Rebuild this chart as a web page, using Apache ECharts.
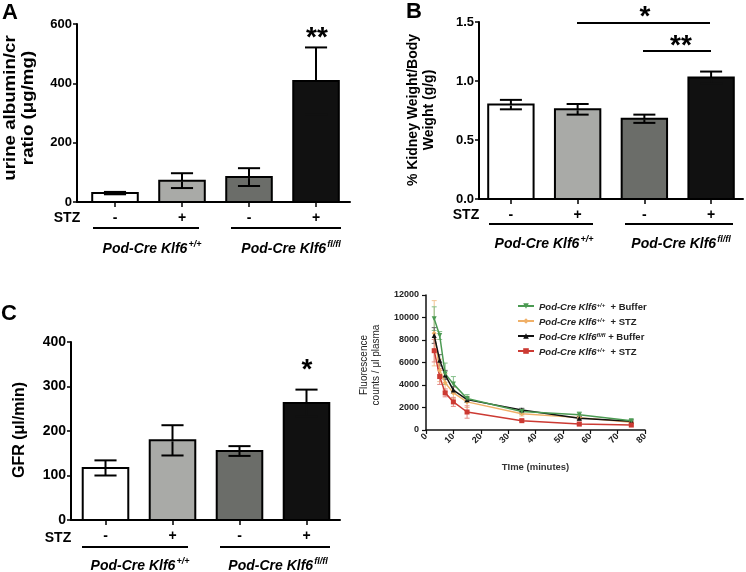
<!DOCTYPE html>
<html><head><meta charset="utf-8">
<script src="https://cdn.jsdelivr.net/npm/echarts@6/dist/echarts.min.js"></script>
<style>html,body{margin:0;padding:0;background:#fff}#c{width:746px;height:572px}</style>
</head><body><div id="c"></div>
<script>
// ---------- data ----------
const stzLabels = ['-', '+', '-', '+'];
const groupNames = ['Pod-Cre Klf6', 'Pod-Cre Klf6'];
const groupSups = ['+/+', 'fl/fl'];
const barColors = ['#ffffff', '#a9aaa7', '#6b6d69', '#111111'];

const albuminMean = [30, 72, 84, 408];
const albuminErr = [4, 25, 30, 113];
const albuminTicks = [0, 200, 400, 600];

const kidneyMean = [0.80, 0.76, 0.68, 1.03];
const kidneyErr = [0.04, 0.045, 0.035, 0.05];
const kidneyTicks = [0, 0.5, 1.0, 1.5];

const gfrMean = [117, 179, 155, 263];
const gfrErr = [17, 34, 11, 30];
const gfrTicks = [0, 100, 200, 300, 400];

const timeMinutes = [3, 5, 7, 10, 15, 35, 56, 75];
const wtBuffer = [9900, 8400, 5000, 4100, 2800, 1650, 1350, 830];
const wtBufferErr = [1050, 350, 950, 650, 350, 250, 250, 100];
const wtStz = [8600, 5300, 4200, 3300, 2500, 1450, 1100, 680];
const wtStzErr = [2900, 1000, 800, 500, 500, 200, 200, 100];
const koBuffer = [8400, 6200, 4900, 3550, 2700, 1780, 1050, 780];
const koBufferErr = [700, 500, 400, 300, 200, 150, 150, 100];
const koStz = [7050, 4750, 3300, 2500, 1600, 830, 530, 440];
const koStzErr = [1000, 700, 350, 400, 550, 100, 150, 80];

// ---------- chart ----------
const FONT = '"Liberation Sans", Arial, Helvetica, sans-serif';
const chart = echarts.init(document.getElementById('c'), null, {renderer: 'canvas', width: 746, height: 572});

function barXAxis(gi, min, max) {
  return {
    type: 'value', gridIndex: gi, min: min, max: max,
    splitLine: {show: false},
    axisLine: {show: true, onZero: false, lineStyle: {color: '#000', width: 2}},
    axisTick: {show: true, customValues: [0, 1, 2, 3], length: 5, lineStyle: {color: '#000', width: 1.5}},
    axisLabel: {customValues: [0, 1, 2, 3], formatter: v => stzLabels[Math.round(v)], color: '#000',
      fontFamily: FONT, fontWeight: 'bold', fontSize: 14, margin: 9}
  };
}
function barYAxis(gi, ticks, fs, fmt) {
  return {
    type: 'value', gridIndex: gi, min: ticks[0], max: ticks[ticks.length - 1],
    interval: ticks[1] - ticks[0],
    splitLine: {show: false},
    axisLine: {show: true, onZero: false, lineStyle: {color: '#000', width: 2}},
    axisTick: {show: true, length: 4, lineStyle: {color: '#000', width: 1.5}},
    axisLabel: {color: '#000', fontFamily: FONT, fontWeight: 'bold', fontSize: fs, margin: 5,
      formatter: fmt || (v => String(v))}
  };
}
function barSeries(gi, means, errs) {
  return {
    type: 'custom', xAxisIndex: gi, yAxisIndex: gi, silent: true,
    data: means.map((m, i) => [i, m, errs[i]]),
    renderItem(params, api) {
      const x = api.value(0), y = api.value(1), e = api.value(2);
      const p0 = api.coord([x, 0]), p1 = api.coord([x, y]);
      const pt = api.coord([x, y + e]), pb = api.coord([x, y - e]);
      const bw = api.size([0.68, 0])[0];
      const cw = api.size([0.33, 0])[0] / 2;
      const fill = barColors[params.dataIndex];
      const st = {stroke: '#000', lineWidth: 2};
      const stLow = {stroke: params.dataIndex === 3 ? fill : '#000', lineWidth: 2};
      return {type: 'group', children: [
        {type: 'rect', shape: {x: p0[0] - bw / 2, y: p1[1], width: bw, height: p0[1] - p1[1]},
          style: {fill: fill, stroke: '#000', lineWidth: 2}},
        {type: 'line', shape: {x1: pt[0], y1: pt[1], x2: p1[0], y2: p1[1]}, style: st},
        {type: 'line', shape: {x1: p1[0], y1: p1[1] + 1, x2: pb[0], y2: pb[1]}, style: stLow},
        {type: 'line', shape: {x1: pt[0] - cw, y1: pt[1], x2: pt[0] + cw, y2: pt[1]}, style: st},
        {type: 'line', shape: {x1: pb[0] - cw, y1: pb[1], x2: pb[0] + cw, y2: pb[1]}, style: stLow}
      ]};
    }
  };
}
function errSeries(vals, errs, color) {
  return {
    type: 'custom', xAxisIndex: 3, yAxisIndex: 3, silent: true, z: 1,
    data: timeMinutes.map((t, i) => [t, vals[i], errs[i]]),
    renderItem(params, api) {
      const t = api.value(0), v = api.value(1), e = api.value(2);
      const top = api.coord([t, v + e]), bot = api.coord([t, Math.max(0, v - e)]);
      const hw = 2.5, st = {stroke: color, lineWidth: 1};
      return {type: 'group', children: [
        {type: 'line', shape: {x1: top[0], y1: top[1], x2: bot[0], y2: bot[1]}, style: st},
        {type: 'line', shape: {x1: top[0] - hw, y1: top[1], x2: top[0] + hw, y2: top[1]}, style: st},
        {type: 'line', shape: {x1: bot[0] - hw, y1: bot[1], x2: bot[0] + hw, y2: bot[1]}, style: st}
      ]};
    }
  };
}
function lineSeries(name, vals, color, symbol, rot) {
  return {
    type: 'line', name: name, xAxisIndex: 3, yAxisIndex: 3, z: 3,
    data: timeMinutes.map((t, i) => [t, vals[i]]),
    symbol: symbol, symbolSize: 5, symbolRotate: rot || 0, showSymbol: true,
    lineStyle: {color: color, width: 1.5}, itemStyle: {color: color}
  };
}

const legendText = {
  wtBuffer: '{i|Pod-Cre Klf6}{s|+/+}{n|  + Buffer}',
  wtStz: '{i|Pod-Cre Klf6}{s|+/+}{n|  + STZ}',
  koBuffer: '{i|Pod-Cre Klf6}{s|fl/fl}{n| + Buffer}',
  koStz: '{i|Pod-Cre Klf6}{s|+/+}{n|  + STZ}'
};

const richBig = {
  i: {fontFamily: FONT, fontStyle: 'italic', fontWeight: 'bold', fontSize: 14, color: '#000', verticalAlign: 'bottom', lineHeight: 18},
  s: {fontFamily: FONT, fontStyle: 'italic', fontWeight: 'bold', fontSize: 9, color: '#000', verticalAlign: 'bottom', lineHeight: 18, padding: [0, 0, 7, 1]}
};
function groupLabel(x, y, gi) {
  return {type: 'text', x: x, y: y, style: {text: '{i|' + groupNames[gi] + '}{s|' + groupSups[gi] + '}',
    rich: richBig, align: 'center', verticalAlign: 'middle'}};
}
function hline(x1, x2, y, w) {
  return {type: 'line', shape: {x1: x1, y1: y, x2: x2, y2: y}, style: {stroke: '#000', lineWidth: w || 2}};
}
function txt(text, x, y, fs) {
  return {type: 'text', x: x, y: y, style: {text: text, fontFamily: FONT, fontWeight: 'bold',
    fontSize: fs, fill: '#000', align: 'center', verticalAlign: 'middle'}};
}

const option = {
  animation: false,
  backgroundColor: '#fff',
  grid: [
    {left: 77, top: 24, width: 273, height: 178},
    {left: 479, top: 22, width: 264, height: 177},
    {left: 71, top: 342, width: 269, height: 178},
    {left: 426, top: 295, width: 219, height: 135}
  ],
  xAxis: [
    barXAxis(0, -0.567, 3.507),
    barXAxis(1, -0.478, 3.478),
    barXAxis(2, -0.515, 3.5),
    {type: 'value', gridIndex: 3, min: 0, max: 80, interval: 10, splitLine: {show: false},
      axisLine: {show: true, onZero: false, lineStyle: {color: '#111', width: 1.5}},
      axisTick: {show: true, length: 4, lineStyle: {color: '#111', width: 1.2}},
      axisLabel: {rotate: 45, fontFamily: FONT, fontWeight: 'bold', fontSize: 9, color: '#222', margin: 5},
      name: 'TIme (minutes)', nameLocation: 'middle', nameGap: 32,
      nameTextStyle: {fontFamily: FONT, fontWeight: 'bold', fontSize: 9.5, color: '#333'}}
  ],
  yAxis: [
    barYAxis(0, albuminTicks, 13),
    barYAxis(1, kidneyTicks, 13, v => v.toFixed(1)),
    barYAxis(2, gfrTicks, 14),
    {type: 'value', gridIndex: 3, min: 0, max: 12000, interval: 2000, splitLine: {show: false},
      axisLine: {show: true, onZero: false, lineStyle: {color: '#111', width: 1.5}},
      axisTick: {show: true, length: 4, lineStyle: {color: '#111', width: 1.2}},
      axisLabel: {fontFamily: FONT, fontWeight: 'bold', fontSize: 9, color: '#222', margin: 7,
        formatter: v => String(v)}}
  ],
  legend: {
    left: 512, top: 297, orient: 'vertical', itemGap: 5, itemWidth: 16, itemHeight: 7,
    data: ['wtBuffer', 'wtStz', 'koBuffer', 'koStz'],
    formatter: n => legendText[n],
    textStyle: {rich: {
      i: {fontFamily: FONT, fontStyle: 'italic', fontWeight: 'bold', fontSize: 9.5, color: '#222', verticalAlign: 'bottom', lineHeight: 12},
      s: {fontFamily: FONT, fontStyle: 'italic', fontWeight: 'bold', fontSize: 6, color: '#222', verticalAlign: 'bottom', lineHeight: 12, padding: [0, 0, 4, 0]},
      n: {fontFamily: FONT, fontWeight: 'bold', fontSize: 9.5, color: '#222', verticalAlign: 'bottom', lineHeight: 12}
    }}
  },
  series: [
    barSeries(0, albuminMean, albuminErr),
    barSeries(1, kidneyMean, kidneyErr),
    barSeries(2, gfrMean, gfrErr),
    errSeries(wtStz, wtStzErr, '#f2c494'),
    errSeries(wtBuffer, wtBufferErr, '#86c08b'),
    errSeries(koBuffer, koBufferErr, '#666'),
    errSeries(koStz, koStzErr, '#e38a85'),
    lineSeries('wtStz', wtStz, '#f0b068', 'diamond'),
    lineSeries('koBuffer', koBuffer, '#111', 'triangle'),
    lineSeries('wtBuffer', wtBuffer, '#4b9a52', 'triangle', 180),
    lineSeries('koStz', koStz, '#cc3a33', 'rect')
  ],
  graphic: [
    // panel letters
    txt('A', 10, 13, 22),
    txt('B', 414, 12, 22),
    txt('C', 9, 314, 22),
    // y titles
    {type: 'text', x: 19, y: 108, rotation: Math.PI / 2, scaleX: 1.1, style: {text: 'urine albumin/cr\nratio (\u03bcg/mg)', fontFamily: FONT, fontWeight: 'bold', fontSize: 17, lineHeight: 18, fill: '#000', align: 'center', verticalAlign: 'middle'}},
    {type: 'text', x: 421, y: 110, rotation: Math.PI / 2, style: {text: '% Kidney Weight/Body\nWeight (g/g)', fontFamily: FONT, fontWeight: 'bold', fontSize: 14, lineHeight: 16, fill: '#000', align: 'center', verticalAlign: 'middle'}},
    {type: 'text', x: 20, y: 430, rotation: Math.PI / 2, style: {text: 'GFR (\u03bcl/min)', fontFamily: FONT, fontWeight: 'bold', fontSize: 16, fill: '#000', align: 'center', verticalAlign: 'middle'}},
    {type: 'text', x: 370, y: 365, rotation: Math.PI / 2, style: {text: 'Fluorescence\ncounts / \u03bcl plasma', fontFamily: FONT, fontWeight: 'normal', fontSize: 10, lineHeight: 12, fill: '#222', align: 'center', verticalAlign: 'middle'}},
    // STZ labels
    txt('STZ', 67, 218, 14),
    txt('STZ', 466, 215, 14),
    txt('STZ', 58, 538, 14),
    // group lines
    hline(93, 199, 228), hline(231, 341, 228),
    hline(489, 593, 224), hline(625, 733, 224),
    hline(82, 188, 547), hline(220, 330, 547),
    // group labels
    groupLabel(152, 247, 0), groupLabel(291, 247, 1),
    groupLabel(544, 242, 0), groupLabel(681, 242, 1),
    groupLabel(140, 564, 0), groupLabel(278, 564, 1),
    // significance
    txt('**', 317, 38, 28),
    txt('*', 307, 370, 28),
    hline(577, 710, 23), txt('*', 645, 17, 28),
    hline(643, 711, 51), txt('**', 681, 46, 28)
  ]
};
chart.setOption(option);
</script></body></html>
